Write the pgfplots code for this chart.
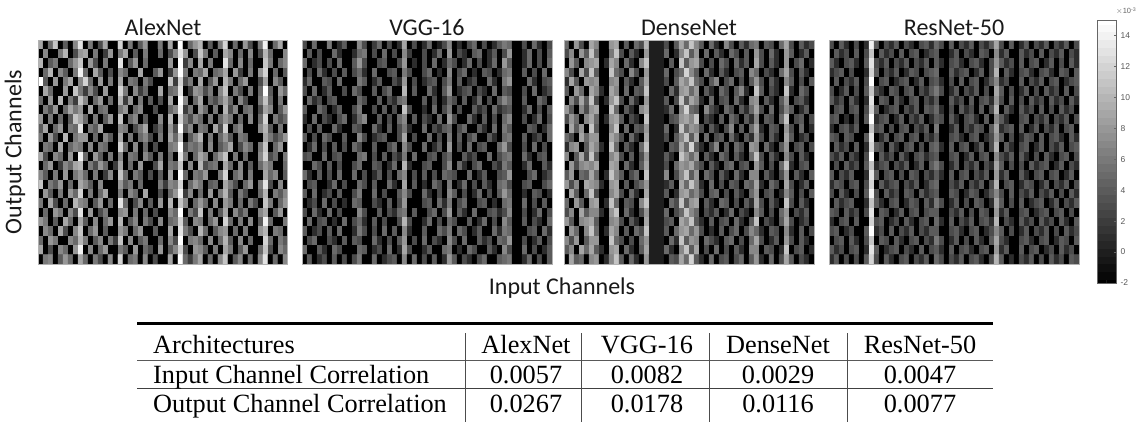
\documentclass[border=0pt]{standalone}
\usepackage{fontspec}
\setmainfont{Liberation Serif}
\newfontfamily\calib{Carlito}
\newfontfamily\helv{Liberation Sans}
\usepackage{pgfplots}
\pgfplotsset{compat=1.18}
\pgfplotsset{
 colormap={mygray}{gray(0cm)=(0); gray(1cm)=(1)},
 panel/.style={at={(#1bp,-264bp)},anchor=south west,scale only axis,width=250bp,height=224bp,
  xmin=-0.5,xmax=49.5,ymin=-0.5,ymax=23.5,y dir=reverse,xtick=\empty,ytick=\empty,
  point meta min=-2,point meta max=15,colormap name=mygray,axis on top,
  axis line style={color=black!30,line width=1bp}},
 cells/.style={matrix plot*,mesh/cols=50,point meta=explicit},
}
\begin{document}
\begin{tikzpicture}[x=1bp,y=1bp]
\path[use as bounding box] (0,0) rectangle (1141,-423);
% AlexNet
\begin{axis}[panel=38]
\addplot[cells] table[row sep=crcr,header=false,x expr={mod(\coordindex,50)},y expr={floor((\coordindex+0.5)/50)},meta index=0] {
9\\-2\\5\\11\\-2\\4\\-2\\7\\13\\-2\\ 6\\-2\\3\\9\\-2\\-2\\12\\-2\\6\\-2\\ 4\\8\\-2\\-2\\6\\-2\\9\\-2\\15\\-2\\ 5\\8\\10\\-2\\4\\-2\\6\\12\\-2\\5\\ -2\\8\\3\\-2\\6\\14\\-2\\5\\9\\-2\\
-2\\7\\-2\\-2\\6\\10\\-2\\3\\8\\9\\ -2\\6\\-2\\2\\8\\-2\\6\\9\\-2\\4\\ -2\\6\\-2\\-2\\5\\-2\\3\\7\\13\\8\\ -2\\3\\11\\6\\-2\\4\\-2\\9\\7\\-2\\ 5\\-2\\7\\-2\\3\\10\\5\\-2\\-2\\7\\
10\\-2\\4\\6\\-2\\-2\\5\\8\\11\\-2\\ 8\\3\\-2\\6\\-2\\-2\\13\\-2\\4\\8\\ -2\\5\\-2\\-2\\-2\\-2\\8\\-2\\15\\2\\ 7\\-2\\9\\-2\\6\\-2\\-2\\13\\5\\-2\\ 7\\-2\\5\\-2\\-2\\11\\6\\-2\\5\\7\\
-2\\5\\10\\-2\\7\\4\\-2\\6\\14\\5\\ -2\\9\\4\\-2\\3\\-2\\7\\5\\-2\\-2\\ 9\\-2\\-2\\4\\8\\-2\\2\\8\\15\\6\\ -2\\6\\5\\9\\-2\\5\\6\\9\\-2\\8\\ 2\\-2\\6\\-2\\8\\12\\-2\\5\\-2\\4\\
15\\4\\-2\\8\\-2\\6\\9\\-2\\7\\12\\ 5\\-2\\8\\-2\\6\\-2\\9\\-2\\6\\5\\ -2\\6\\3\\-2\\-2\\-2\\11\\2\\12\\3\\ 6\\-2\\9\\-2\\4\\8\\-2\\10\\6\\-2\\ 5\\8\\-2\\-2\\3\\9\\-2\\7\\4\\-2\\
-2\\9\\5\\-2\\-2\\8\\-2\\11\\6\\2\\ 7\\3\\-2\\8\\-2\\-2\\12\\6\\-2\\7\\ 2\\5\\-2\\-2\\9\\-2\\5\\6\\13\\-2\\ 2\\8\\7\\3\\6\\-2\\7\\11\\-2\\6\\ 3\\-2\\6\\-2\\5\\15\\4\\-2\\8\\5\\
5\\-2\\8\\-2\\10\\-2\\6\\2\\11\\7\\ -2\\5\\8\\-2\\5\\-2\\10\\2\\8\\-2\\ 6\\-2\\4\\-2\\3\\-2\\9\\-2\\15\\7\\ -2\\5\\9\\-2\\5\\3\\6\\9\\5\\-2\\ 7\\3\\-2\\-2\\6\\11\\5\\-2\\6\\-2\\
-2\\6\\3\\8\\-2\\5\\9\\6\\8\\-2\\ 9\\-2\\5\\6\\-2\\-2\\6\\8\\-2\\5\\ 7\\-2\\-2\\3\\-2\\-2\\5\\7\\14\\2\\ 6\\-2\\8\\5\\-2\\6\\-2\\10\\3\\7\\ -2\\5\\6\\-2\\3\\9\\7\\-2\\4\\8\\
8\\-2\\6\\-2\\5\\-2\\4\\11\\9\\5\\ -2\\6\\-2\\4\\8\\-2\\11\\-2\\5\\7\\ -2\\4\\-2\\-2\\7\\-2\\10\\-2\\12\\6\\ 3\\7\\5\\-2\\6\\-2\\5\\8\\6\\-2\\ 5\\-2\\7\\-2\\5\\12\\-2\\6\\3\\5\\
4\\9\\-2\\5\\8\\-2\\6\\5\\13\\-2\\ 6\\4\\9\\-2\\-2\\-2\\7\\6\\-2\\3\\ 6\\9\\-2\\2\\5\\-2\\8\\3\\15\\4\\ 7\\-2\\6\\5\\-2\\9\\3\\12\\-2\\5\\ 7\\-2\\-2\\-2\\7\\10\\4\\-2\\6\\-2\\
6\\-2\\8\\3\\-2\\10\\-2\\6\\8\\8\\ -2\\5\\-2\\7\\4\\-2\\9\\-2\\6\\-2\\ 5\\7\\3\\-2\\6\\-2\\9\\5\\11\\-2\\ 4\\7\\10\\-2\\6\\-2\\5\\8\\4\\-2\\ 6\\5\\-2\\-2\\-2\\9\\6\\3\\5\\8\\
-2\\6\\5\\-2\\9\\-2\\5\\7\\6\\-2\\ 7\\-2\\6\\5\\-2\\-2\\12\\5\\-2\\7\\ -2\\5\\-2\\3\\-2\\-2\\6\\7\\15\\3\\ 6\\5\\7\\-2\\7\\-2\\4\\6\\9\\-2\\ 3\\7\\5\\-2\\6\\11\\-2\\5\\8\\-2\\
9\\3\\-2\\7\\5\\-2\\8\\-2\\14\\5\\ -2\\8\\4\\-2\\6\\-2\\7\\-2\\6\\5\\ -2\\7\\4\\-2\\6\\-2\\5\\-2\\13\\6\\ -2\\5\\9\\7\\-2\\5\\8\\11\\-2\\6\\ -2\\5\\-2\\-2\\7\\12\\3\\5\\-2\\6\\
-2\\5\\8\\-2\\2\\7\\5\\9\\10\\-2\\ 6\\3\\8\\5\\-2\\2\\9\\-2\\5\\-2\\ 8\\-2\\-2\\3\\9\\-2\\6\\5\\11\\-2\\ 7\\-2\\10\\3\\5\\6\\-2\\9\\5\\-2\\ 7\\-2\\4\\-2\\5\\8\\6\\-2\\-2\\5\\
7\\4\\-2\\6\\-2\\8\\-2\\6\\8\\5\\ -2\\6\\-2\\2\\7\\-2\\11\\5\\-2\\6\\ 4\\-2\\3\\-2\\4\\-2\\9\\-2\\15\\5\\ -2\\6\\5\\8\\-2\\-2\\6\\12\\-2\\5\\ 7\\-2\\6\\-2\\-2\\9\\5\\7\\-2\\4\\
11\\-2\\6\\4\\8\\-2\\5\\-2\\9\\7\\ 4\\-2\\7\\-2\\-2\\-2\\8\\4\\6\\-2\\ 5\\-2\\-2\\-2\\6\\2\\7\\6\\12\\-2\\ 5\\8\\6\\-2\\4\\5\\-2\\9\\6\\3\\ -2\\5\\8\\-2\\6\\13\\3\\-2\\7\\-2\\
-2\\8\\4\\-2\\6\\-2\\8\\5\\12\\-2\\ 6\\-2\\5\\9\\-2\\-2\\6\\-2\\7\\5\\ -2\\9\\-2\\-2\\3\\-2\\5\\8\\14\\2\\ 7\\-2\\5\\-2\\8\\-2\\6\\10\\4\\-2\\ 6\\3\\-2\\-2\\5\\10\\-2\\6\\4\\7\\
6\\-2\\9\\3\\-2\\5\\-2\\10\\7\\6\\ -2\\4\\8\\-2\\5\\-2\\13\\5\\-2\\3\\ 7\\-2\\4\\-2\\8\\-2\\10\\-2\\11\\7\\ -2\\5\\8\\5\\-2\\7\\-2\\8\\6\\-2\\ 5\\-2\\6\\3\\-2\\11\\6\\-2\\5\\8\\
-2\\5\\-2\\8\\6\\-2\\7\\3\\13\\-2\\ 8\\-2\\3\\6\\-2\\-2\\7\\8\\-2\\6\\ -2\\5\\-2\\3\\-2\\-2\\7\\5\\15\\-2\\ 6\\3\\11\\-2\\6\\-2\\4\\9\\-2\\7\\ 3\\6\\-2\\-2\\7\\9\\-2\\4\\8\\-2\\
8\\6\\-2\\4\\-2\\9\\5\\-2\\9\\4\\ -2\\7\\-2\\5\\8\\-2\\10\\-2\\4\\7\\ -2\\6\\3\\-2\\7\\-2\\5\\6\\12\\4\\ -2\\7\\6\\-2\\5\\8\\-2\\12\\5\\-2\\ 6\\-2\\7\\-2\\4\\14\\5\\-2\\-2\\6\\
-2\\7\\5\\-2\\9\\3\\-2\\7\\11\\-2\\ 5\\8\\-2\\4\\-2\\-2\\8\\6\\-2\\5\\ 8\\-2\\-2\\4\\-2\\-2\\9\\-2\\13\\6\\ 3\\-2\\10\\5\\-2\\4\\7\\8\\-2\\5\\ -2\\6\\-2\\-2\\8\\10\\-2\\6\\5\\-2\\
5\\-2\\8\\6\\-2\\-2\\7\\5\\10\\6\\ -2\\4\\7\\-2\\6\\2\\11\\-2\\7\\-2\\ 4\\6\\-2\\-2\\5\\-2\\7\\3\\15\\-2\\ 6\\7\\5\\-2\\7\\-2\\5\\10\\4\\-2\\ 7\\-2\\5\\-2\\-2\\12\\5\\-2\\6\\4\\
9\\-2\\3\\-2\\7\\5\\-2\\8\\14\\-2\\ 7\\-2\\5\\8\\-2\\-2\\6\\4\\-2\\8\\ -2\\5\\3\\-2\\8\\-2\\4\\7\\12\\3\\ -2\\8\\7\\4\\-2\\6\\-2\\9\\6\\-2\\ 4\\8\\-2\\-2\\5\\11\\3\\-2\\7\\5\\
-2\\6\\7\\-2\\4\\8\\5\\-2\\9\\5\\ -2\\6\\3\\-2\\7\\-2\\12\\-2\\5\\6\\ -2\\7\\-2\\3\\-2\\-2\\9\\-2\\15\\5\\ 2\\6\\9\\-2\\5\\-2\\7\\11\\-2\\4\\ 7\\-2\\5\\-2\\7\\13\\-2\\5\\-2\\7\\
};
\end{axis}
% VGG-16
\begin{axis}[panel=302]
\addplot[cells] table[row sep=crcr,header=false,x expr={mod(\coordindex,50)},y expr={floor((\coordindex+0.5)/50)},meta index=0] {
3\\-2\\5\\-2\\-2\\6\\-2\\1\\4\\-2\\ -2\\7\\3\\-2\\2\\5\\-2\\3\\-2\\1\\ 9\\-2\\3\\-2\\1\\5\\-2\\0\\3\\7\\ -2\\1\\-2\\3\\5\\-2\\3\\-2\\1\\4\\ 6\\5\\-2\\-2\\3\\-2\\5\\1\\-2\\3\\
-2\\4\\-2\\3\\-2\\-2\\5\\1\\-2\\-2\\ 1\\5\\6\\-2\\3\\-2\\5\\-2\\3\\-2\\ 7\\2\\-2\\-2\\3\\-2\\1\\5\\-2\\8\\ -2\\3\\1\\-2\\4\\5\\-2\\1\\4\\-2\\ 3\\8\\-2\\-2\\1\\5\\-2\\3\\-2\\4\\
5\\-2\\1\\3\\-2\\3\\-2\\5\\-2\\-2\\ 4\\8\\3\\-2\\-2\\3\\4\\-2\\-2\\3\\ 8\\-2\\1\\-2\\3\\-2\\5\\-2\\1\\5\\ 3\\-2\\1\\5\\-2\\3\\-2\\1\\5\\-2\\ 8\\4\\-2\\-2\\1\\5\\-2\\3\\-2\\5\\
-2\\3\\-2\\5\\1\\-2\\3\\-2\\4\\-2\\ 3\\5\\1\\-2\\5\\-2\\-2\\3\\4\\-2\\ 6\\3\\-2\\-2\\3\\5\\-2\\1\\-2\\7\\ -2\\3\\5\\-2\\1\\-2\\4\\3\\-2\\1\\ 5\\6\\-2\\-2\\4\\-2\\3\\-2\\5\\-2\\
1\\5\\-2\\-2\\4\\3\\-2\\5\\-2\\-2\\ -2\\6\\4\\-2\\1\\4\\-2\\-2\\3\\1\\ 8\\-2\\3\\-2\\1\\3\\4\\-2\\3\\6\\ -2\\4\\-2\\1\\3\\-2\\-2\\5\\1\\-2\\ 6\\8\\-2\\-2\\-2\\5\\1\\-2\\3\\4\\
3\\-2\\5\\-2\\1\\4\\-2\\-2\\3\\-2\\ 5\\3\\-2\\-2\\4\\-2\\3\\5\\-2\\-2\\ 10\\-2\\4\\-2\\-2\\5\\1\\-2\\4\\8\\ -2\\1\\3\\4\\-2\\3\\1\\-2\\5\\-2\\ 4\\3\\-2\\-2\\3\\-2\\5\\-2\\1\\3\\
-2\\5\\1\\3\\-2\\3\\4\\-2\\-2\\-2\\ -2\\5\\3\\-2\\-2\\4\\-2\\3\\1\\5\\ 6\\-2\\-2\\-2\\4\\-2\\3\\-2\\1\\5\\ 3\\-2\\4\\-2\\1\\5\\-2\\3\\-2\\4\\ 7\\5\\-2\\-2\\4\\-2\\-2\\5\\3\\-2\\
4\\-2\\-2\\5\\3\\-2\\1\\4\\-2\\-2\\ 3\\6\\-2\\-2\\3\\-2\\4\\-2\\3\\-2\\ 11\\3\\-2\\-2\\1\\-2\\5\\-2\\3\\6\\ -2\\3\\-2\\-2\\4\\1\\3\\-2\\5\\1\\ 3\\4\\-2\\-2\\1\\5\\-2\\3\\-2\\4\\
1\\-2\\5\\-2\\3\\1\\-2\\3\\5\\-2\\ 1\\5\\7\\-2\\-2\\4\\-2\\3\\-2\\5\\ 7\\-2\\4\\-2\\3\\1\\-2\\5\\-2\\8\\ 3\\-2\\-2\\5\\1\\-2\\4\\-2\\3\\-2\\ 5\\7\\-2\\-2\\3\\-2\\1\\5\\-2\\3\\
-2\\3\\-2\\4\\-2\\-2\\5\\1\\-2\\-2\\ 4\\3\\-2\\-2\\5\\1\\-2\\4\\-2\\3\\ 6\\1\\-2\\-2\\5\\-2\\3\\1\\4\\5\\ -2\\3\\5\\-2\\-2\\4\\1\\-2\\5\\-2\\ 6\\4\\-2\\-2\\-2\\4\\3\\-2\\1\\5\\
4\\-2\\3\\-2\\5\\3\\-2\\-2\\4\\-2\\ -2\\7\\3\\-2\\1\\3\\4\\-2\\-2\\3\\ 9\\-2\\3\\-2\\-2\\5\\-2\\3\\-2\\6\\ -2\\4\\-2\\3\\5\\-2\\-2\\4\\1\\-2\\ 5\\6\\-2\\-2\\4\\-2\\1\\3\\-2\\5\\
-2\\1\\5\\-2\\3\\-2\\4\\-2\\3\\-2\\ 5\\3\\-2\\-2\\4\\-2\\-2\\3\\5\\-2\\ 7\\3\\-2\\-2\\5\\-2\\1\\4\\-2\\8\\ -2\\3\\-2\\5\\-2\\3\\4\\-2\\-2\\5\\ 8\\3\\-2\\-2\\3\\-2\\5\\-2\\3\\-2\\
3\\4\\-2\\-2\\5\\-2\\3\\4\\-2\\-2\\ -2\\5\\6\\-2\\3\\-2\\4\\-2\\3\\1\\ 6\\-2\\5\\-2\\-2\\3\\4\\-2\\3\\5\\ -2\\-2\\4\\1\\3\\-2\\-2\\5\\-2\\3\\ 5\\6\\-2\\-2\\5\\1\\-2\\3\\4\\-2\\
-2\\-2\\5\\3\\-2\\4\\-2\\3\\-2\\-2\\ 3\\5\\-2\\-2\\4\\3\\-2\\1\\5\\-2\\ 10\\1\\-2\\-2\\3\\4\\-2\\-2\\3\\7\\ -2\\5\\1\\-2\\3\\5\\-2\\-2\\3\\1\\ 6\\4\\-2\\-2\\1\\5\\-2\\-2\\4\\1\\
5\\1\\-2\\4\\-2\\3\\-2\\5\\-2\\-2\\ 5\\-2\\3\\-2\\1\\4\\-2\\3\\-2\\5\\ 7\\-2\\3\\-2\\4\\-2\\3\\-2\\5\\4\\ 3\\-2\\-2\\5\\-2\\1\\4\\-2\\-2\\3\\ 4\\8\\-2\\-2\\-2\\3\\5\\-2\\1\\3\\
-2\\3\\4\\-2\\-2\\1\\5\\-2\\3\\-2\\ -2\\5\\3\\-2\\4\\-2\\-2\\5\\1\\-2\\ 9\\-2\\4\\-2\\1\\-2\\5\\3\\-2\\6\\ -2\\1\\5\\-2\\3\\-2\\4\\1\\-2\\5\\ 6\\3\\-2\\-2\\3\\4\\-2\\-2\\3\\5\\
4\\-2\\5\\-2\\1\\3\\-2\\4\\-2\\-2\\ 3\\6\\-2\\-2\\5\\-2\\3\\-2\\-2\\4\\ 7\\3\\-2\\-2\\5\\1\\-2\\3\\-2\\7\\ 4\\-2\\3\\-2\\1\\5\\-2\\3\\-2\\4\\ 8\\5\\-2\\-2\\1\\-2\\4\\3\\-2\\1\\
-2\\1\\3\\-2\\5\\-2\\3\\-2\\1\\-2\\ 5\\4\\-2\\-2\\3\\1\\-2\\4\\-2\\3\\ 8\\-2\\-2\\-2\\3\\4\\-2\\5\\1\\6\\ -2\\3\\5\\-2\\-2\\3\\4\\-2\\1\\-2\\ 5\\6\\-2\\-2\\5\\-2\\3\\-2\\4\\-2\\
3\\-2\\5\\1\\-2\\5\\-2\\3\\-2\\-2\\ -2\\7\\3\\-2\\-2\\4\\-2\\3\\1\\5\\ 6\\-2\\4\\-2\\-2\\3\\5\\-2\\3\\8\\ -2\\4\\1\\-2\\5\\-2\\-2\\3\\4\\1\\ 3\\7\\-2\\-2\\3\\-2\\1\\5\\-2\\3\\
-2\\5\\-2\\3\\4\\-2\\1\\-2\\5\\-2\\ 3\\5\\1\\-2\\4\\-2\\3\\-2\\-2\\3\\ 10\\3\\-2\\-2\\1\\5\\-2\\3\\-2\\5\\ 3\\-2\\-2\\4\\-2\\1\\5\\-2\\3\\-2\\ 7\\4\\-2\\-2\\4\\-2\\3\\1\\-2\\5\\
4\\-2\\1\\3\\-2\\4\\-2\\5\\-2\\-2\\ 1\\6\\3\\-2\\3\\-2\\5\\-2\\4\\-2\\ 7\\1\\-2\\-2\\4\\-2\\-2\\5\\3\\6\\ -2\\5\\3\\-2\\1\\4\\-2\\-2\\5\\1\\ 6\\5\\-2\\-2\\-2\\3\\4\\-2\\5\\1\\
-2\\3\\5\\-2\\-2\\3\\1\\-2\\4\\-2\\ 4\\3\\-2\\-2\\5\\1\\-2\\3\\-2\\4\\ 8\\-2\\3\\-2\\5\\-2\\3\\1\\-2\\7\\ 3\\-2\\5\\-2\\-2\\4\\1\\3\\-2\\5\\ 4\\8\\-2\\-2\\3\\-2\\1\\4\\-2\\3\\
5\\-2\\-2\\4\\1\\-2\\5\\3\\-2\\-2\\ -2\\5\\4\\-2\\1\\3\\-2\\5\\-2\\1\\ 9\\3\\-2\\-2\\1\\4\\-2\\-2\\5\\6\\ -2\\1\\-2\\5\\3\\-2\\-2\\4\\1\\-2\\ 7\\3\\-2\\-2\\5\\-2\\3\\-2\\1\\4\\
-2\\4\\-2\\1\\3\\-2\\4\\-2\\3\\-2\\ 3\\6\\-2\\-2\\5\\-2\\1\\3\\4\\-2\\ 7\\-2\\5\\-2\\3\\-2\\4\\-2\\1\\8\\ 4\\-2\\3\\1\\-2\\3\\5\\-2\\-2\\4\\ 5\\6\\-2\\-2\\1\\5\\-2\\3\\-2\\4\\
};
\end{axis}
% DenseNet
\begin{axis}[panel=564]
\addplot[cells] table[row sep=crcr,header=false,x expr={mod(\coordindex,50)},y expr={floor((\coordindex+0.5)/50)},meta index=0] {
5\\-2\\8\\3\\-2\\9\\7\\-2\\-2\\8\\ 9\\-2\\4\\-2\\5\\3\\10\\0\\0\\0\\ 3\\-2\\4\\9\\5\\11\\7\\4\\-2\\5\\ 1\\-2\\7\\3\\-2\\4\\1\\5\\6\\-2\\ 4\\3\\-2\\5\\9\\3\\-2\\4\\1\\3\\
3\\7\\-2\\8\\4\\11\\5\\-2\\-2\\6\\ 11\\3\\-2\\4\\1\\-2\\8\\0\\0\\0\\ 5\\-2\\1\\7\\11\\4\\8\\-2\\5\\-2\\ 4\\1\\-2\\5\\3\\-2\\4\\-2\\8\\3\\ -2\\5\\1\\-2\\8\\4\\-2\\1\\4\\-2\\
-2\\8\\4\\-2\\7\\8\\9\\-2\\1\\9\\ 7\\-2\\5\\1\\-2\\7\\11\\0\\0\\0\\ -2\\4\\-2\\11\\4\\8\\9\\3\\-2\\3\\ -2\\5\\3\\-2\\5\\1\\4\\-2\\9\\3\\ -2\\4\\1\\-2\\8\\-2\\3\\5\\-2\\1\\
7\\3\\-2\\9\\3\\11\\4\\-2\\-2\\11\\ 5\\3\\-2\\7\\3\\-2\\8\\0\\0\\0\\ 5\\-2\\3\\5\\12\\7\\4\\-2\\5\\1\\ -2\\4\\1\\-2\\3\\4\\-2\\7\\5\\-2\\ 3\\1\\-2\\5\\9\\3\\-2\\4\\1\\-2\\
1\\9\\4\\-2\\8\\7\\8\\-2\\-2\\7\\ 8\\-2\\4\\1\\-2\\4\\9\\0\\0\\0\\ 3\\-2\\4\\9\\7\\11\\5\\3\\-2\\4\\ 7\\-2\\3\\5\\-2\\3\\-2\\4\\8\\3\\ -2\\4\\1\\-2\\7\\4\\-2\\3\\-2\\4\\
4\\-2\\8\\5\\-2\\9\\7\\1\\-2\\9\\ 7\\-2\\5\\-2\\4\\3\\11\\0\\0\\0\\ -2\\5\\1\\8\\9\\5\\8\\-2\\4\\1\\ -2\\5\\3\\-2\\4\\7\\1\\-2\\11\\4\\ -2\\3\\1\\-2\\11\\1\\-2\\5\\3\\-2\\
-2\\7\\3\\9\\4\\11\\3\\-2\\1\\8\\ 11\\3\\-2\\5\\1\\-2\\8\\0\\0\\0\\ 4\\-2\\3\\11\\4\\9\\7\\1\\-2\\5\\ -2\\3\\4\\-2\\5\\1\\-2\\7\\8\\-2\\ 4\\1\\-2\\4\\8\\-2\\3\\4\\1\\-2\\
8\\4\\-2\\7\\3\\8\\9\\-2\\-2\\11\\ 5\\-2\\4\\1\\-2\\7\\9\\0\\0\\0\\ 1\\5\\-2\\7\\12\\5\\4\\-2\\7\\3\\ 1\\-2\\5\\3\\-2\\4\\1\\5\\9\\3\\ -2\\5\\-2\\3\\7\\4\\-2\\1\\4\\-2\\
3\\8\\5\\-2\\7\\9\\5\\-2\\1\\8\\ 9\\4\\-2\\3\\1\\-2\\11\\0\\0\\0\\ -2\\3\\4\\8\\9\\7\\11\\-2\\3\\1\\ -2\\4\\-2\\5\\3\\-2\\4\\1\\7\\-2\\ 4\\3\\-2\\5\\11\\-2\\3\\4\\-2\\3\\
-2\\9\\4\\8\\-2\\11\\4\\-2\\-2\\7\\ 11\\-2\\5\\-2\\4\\3\\8\\0\\0\\0\\ 5\\-2\\1\\11\\5\\8\\7\\3\\-2\\4\\ 1\\-2\\3\\7\\-2\\4\\-2\\5\\9\\1\\ -2\\4\\3\\-2\\8\\3\\-2\\5\\-2\\1\\
5\\3\\-2\\9\\5\\8\\8\\-2\\-2\\9\\ 7\\3\\-2\\5\\1\\-2\\9\\0\\0\\0\\ 3\\-2\\4\\7\\11\\4\\9\\-2\\5\\-2\\ 3\\4\\-2\\5\\1\\-2\\4\\1\\8\\3\\ -2\\4\\1\\-2\\9\\4\\-2\\1\\3\\-2\\
1\\7\\8\\-2\\4\\9\\7\\1\\-2\\11\\ 5\\-2\\4\\1\\-2\\5\\11\\0\\0\\0\\ -2\\4\\3\\9\\5\\12\\4\\1\\-2\\3\\ 7\\-2\\4\\-2\\5\\3\\-2\\8\\7\\-2\\ 5\\1\\-2\\4\\8\\-2\\3\\4\\-2\\3\\
7\\-2\\4\\9\\3\\11\\4\\-2\\-2\\7\\ 9\\3\\-2\\4\\-2\\3\\8\\0\\0\\0\\ 4\\1\\-2\\11\\8\\5\\8\\-2\\4\\1\\ -2\\5\\3\\-2\\4\\1\\-2\\5\\11\\3\\ -2\\4\\1\\-2\\7\\3\\-2\\4\\1\\-2\\
-2\\8\\3\\7\\8\\7\\9\\-2\\-2\\9\\ 8\\-2\\5\\1\\-2\\4\\9\\0\\0\\0\\ 3\\-2\\5\\8\\7\\9\\5\\3\\-2\\4\\ 1\\-2\\4\\5\\-2\\3\\4\\-2\\8\\4\\ -2\\3\\-2\\5\\11\\1\\-2\\3\\4\\-2\\
4\\8\\-2\\5\\4\\9\\5\\-2\\1\\11\\ 7\\4\\-2\\3\\5\\-2\\11\\0\\0\\0\\ 7\\-2\\3\\7\\11\\4\\8\\-2\\5\\3\\ -2\\4\\1\\-2\\5\\1\\-2\\7\\7\\-2\\ 4\\1\\-2\\3\\8\\-2\\4\\1\\-2\\4\\
8\\3\\7\\-2\\9\\8\\7\\1\\-2\\8\\ 9\\-2\\4\\-2\\3\\5\\8\\0\\0\\0\\ 1\\4\\-2\\9\\5\\11\\7\\1\\-2\\5\\ -2\\3\\-2\\4\\3\\-2\\5\\4\\9\\1\\ -2\\5\\3\\-2\\9\\3\\-2\\1\\4\\-2\\
-2\\9\\4\\-2\\5\\11\\3\\-2\\-2\\7\\ 9\\3\\-2\\5\\1\\-2\\9\\0\\0\\0\\ 4\\-2\\1\\8\\9\\5\\7\\3\\-2\\4\\ 5\\-2\\3\\-2\\4\\1\\-2\\5\\8\\-2\\ 3\\4\\-2\\1\\7\\4\\-2\\3\\-2\\4\\
5\\-2\\8\\4\\-2\\8\\9\\-2\\1\\11\\ 5\\-2\\4\\3\\-2\\7\\11\\0\\0\\0\\ -2\\5\\3\\11\\4\\8\\9\\-2\\4\\1\\ -2\\5\\4\\-2\\3\\-2\\4\\1\\9\\3\\ -2\\4\\1\\-2\\11\\3\\-2\\4\\1\\-2\\
3\\7\\-2\\9\\4\\7\\7\\1\\-2\\8\\ 11\\-2\\5\\1\\-2\\3\\8\\0\\0\\0\\ 5\\-2\\3\\5\\11\\7\\5\\-2\\3\\1\\ 4\\-2\\1\\5\\-2\\3\\1\\-2\\7\\4\\ -2\\3\\-2\\5\\8\\-2\\3\\1\\4\\-2\\
8\\4\\-2\\7\\8\\9\\4\\-2\\-2\\7\\ 8\\3\\-2\\4\\1\\-2\\9\\0\\0\\0\\ 3\\4\\-2\\9\\7\\11\\4\\1\\-2\\4\\ -2\\3\\4\\-2\\5\\1\\-2\\4\\11\\-2\\ 3\\1\\-2\\4\\9\\3\\-2\\1\\3\\-2\\
-2\\8\\5\\-2\\7\\11\\5\\-2\\1\\9\\ 7\\-2\\4\\-2\\5\\3\\11\\0\\0\\0\\ 4\\-2\\5\\8\\9\\5\\8\\3\\-2\\1\\ -2\\4\\-2\\3\\5\\-2\\3\\7\\5\\1\\ -2\\4\\3\\-2\\7\\1\\-2\\4\\-2\\3\\
7\\3\\8\\-2\\4\\8\\8\\-2\\-2\\11\\ 5\\3\\-2\\3\\-2\\5\\8\\0\\0\\0\\ -2\\5\\1\\11\\4\\8\\7\\-2\\5\\3\\ 1\\-2\\4\\5\\-2\\3\\-2\\5\\9\\3\\ -2\\1\\4\\-2\\8\\3\\-2\\4\\1\\-2\\
4\\7\\-2\\9\\5\\9\\4\\1\\-2\\8\\ 9\\-2\\5\\1\\-2\\4\\9\\0\\0\\0\\ 5\\1\\-2\\7\\11\\4\\9\\-2\\3\\-2\\ 5\\-2\\3\\-2\\4\\1\\-2\\7\\7\\-2\\ 4\\3\\-2\\1\\11\\-2\\3\\4\\-2\\1\\
-2\\9\\4\\5\\-2\\7\\8\\-2\\1\\7\\ 11\\4\\-2\\5\\1\\-2\\8\\0\\0\\0\\ -2\\4\\3\\9\\5\\12\\4\\1\\-2\\5\\ -2\\3\\4\\-2\\3\\5\\-2\\4\\8\\1\\ -2\\5\\-2\\3\\9\\4\\-2\\3\\1\\-2\\
};
\end{axis}
% ResNet-50
\begin{axis}[panel=829]
\addplot[cells] table[row sep=crcr,header=false,x expr={mod(\coordindex,50)},y expr={floor((\coordindex+0.5)/50)},meta index=0] {
3\\-2\\4\\1\\-2\\3\\-2\\1\\14\\4\\ -2\\3\\1\\4\\-2\\3\\1\\-2\\3\\4\\ 1\\5\\3\\-2\\4\\-2\\3\\1\\4\\-2\\ 3\\1\\4\\9\\3\\-2\\4\\-2\\1\\4\\ -2\\3\\1\\4\\-2\\3\\1\\4\\-2\\3\\
-2\\4\\1\\3\\-2\\4\\-2\\3\\11\\-2\\ 4\\1\\3\\-2\\4\\-2\\3\\4\\-2\\1\\ 3\\4\\-2\\-2\\1\\4\\-2\\3\\1\\-2\\ 4\\3\\-2\\7\\1\\4\\-2\\-2\\4\\1\\ 3\\-2\\4\\-2\\3\\1\\4\\-2\\3\\1\\
4\\1\\-2\\3\\4\\1\\-2\\4\\13\\3\\ 1\\4\\-2\\3\\1\\4\\-2\\3\\1\\4\\ -2\\4\\1\\-2\\3\\4\\1\\-2\\3\\4\\ 1\\-2\\3\\8\\4\\1\\3\\-2\\4\\-2\\ 3\\4\\-2\\1\\4\\-2\\3\\-2\\4\\1\\
1\\3\\4\\-2\\3\\-2\\-2\\1\\12\\4\\ -2\\3\\1\\4\\-2\\1\\4\\3\\-2\\3\\ 4\\5\\-2\\-2\\4\\1\\3\\4\\-2\\1\\ 4\\-2\\3\\10\\-2\\4\\1\\-2\\3\\4\\ 1\\-2\\3\\4\\1\\-2\\4\\3\\-2\\4\\
-2\\4\\-2\\3\\1\\4\\-2\\3\\15\\-2\\ 3\\4\\-2\\1\\3\\4\\-2\\1\\4\\-2\\ 3\\4\\1\\-2\\3\\-2\\4\\-2\\3\\4\\ -2\\1\\4\\7\\1\\3\\-2\\-2\\4\\-2\\ 3\\1\\4\\-2\\3\\4\\-2\\1\\3\\4\\
3\\-2\\1\\4\\-2\\3\\-2\\4\\11\\3\\ 1\\-2\\4\\3\\-2\\3\\4\\-2\\3\\1\\ 4\\6\\3\\-2\\1\\4\\-2\\3\\1\\4\\ -2\\3\\-2\\9\\4\\-2\\3\\-2\\1\\4\\ -2\\3\\-2\\4\\1\\3\\-2\\4\\-2\\3\\
4\\1\\3\\-2\\4\\1\\-2\\1\\13\\-2\\ 4\\3\\-2\\4\\1\\-2\\3\\4\\-2\\3\\ 1\\4\\-2\\-2\\4\\1\\3\\-2\\4\\-2\\ 3\\4\\1\\8\\3\\-2\\4\\-2\\3\\-2\\ 4\\1\\3\\-2\\4\\1\\3\\-2\\4\\1\\
-2\\3\\4\\-2\\3\\4\\-2\\3\\12\\4\\ -2\\1\\3\\4\\-2\\3\\1\\4\\-2\\4\\ 3\\5\\1\\-2\\3\\-2\\4\\1\\3\\-2\\ 4\\-2\\3\\10\\-2\\4\\1\\-2\\4\\1\\ 3\\-2\\4\\-2\\3\\-2\\4\\1\\3\\-2\\
3\\4\\-2\\1\\-2\\3\\-2\\4\\15\\1\\ 3\\4\\-2\\1\\4\\-2\\3\\1\\4\\-2\\ 1\\4\\3\\-2\\4\\1\\-2\\3\\4\\1\\ -2\\4\\-2\\7\\4\\1\\-2\\-2\\3\\4\\ -2\\3\\1\\4\\-2\\3\\1\\4\\-2\\3\\
1\\-2\\3\\4\\1\\4\\-2\\-2\\11\\3\\ 4\\-2\\3\\-2\\3\\4\\-2\\3\\1\\4\\ -2\\6\\-2\\-2\\1\\4\\-2\\3\\1\\4\\ 3\\-2\\4\\9\\1\\3\\4\\-2\\4\\-2\\ 1\\4\\-2\\3\\1\\4\\-2\\3\\4\\-2\\
4\\3\\-2\\4\\3\\-2\\-2\\4\\13\\-2\\ 1\\4\\-2\\3\\4\\-2\\3\\4\\-2\\3\\ 1\\4\\-2\\-2\\3\\4\\1\\-2\\3\\4\\ -2\\1\\3\\8\\4\\-2\\3\\-2\\1\\4\\ 3\\-2\\4\\-2\\3\\4\\1\\-2\\4\\1\\
-2\\4\\1\\3\\-2\\4\\-2\\1\\12\\4\\ 3\\-2\\4\\1\\-2\\3\\4\\-2\\3\\-2\\ 4\\5\\1\\-2\\4\\-2\\3\\4\\-2\\1\\ 4\\-2\\3\\10\\-2\\4\\1\\-2\\3\\4\\ -2\\1\\4\\-2\\3\\1\\4\\-2\\3\\4\\
3\\1\\4\\-2\\3\\1\\-2\\3\\15\\-2\\ 4\\1\\3\\-2\\4\\1\\-2\\3\\4\\1\\ 3\\4\\-2\\-2\\3\\4\\-2\\1\\4\\-2\\ 3\\4\\-2\\7\\3\\1\\4\\-2\\4\\1\\ -2\\3\\-2\\4\\1\\-2\\3\\4\\-2\\3\\
-2\\3\\-2\\4\\1\\3\\-2\\4\\11\\1\\ 3\\4\\-2\\3\\1\\4\\-2\\1\\4\\-2\\ 4\\6\\3\\-2\\1\\4\\-2\\3\\1\\4\\ -2\\3\\1\\9\\4\\-2\\3\\-2\\3\\-2\\ 4\\1\\3\\4\\-2\\1\\4\\-2\\3\\1\\
4\\-2\\3\\1\\4\\-2\\-2\\1\\13\\4\\ -2\\3\\4\\-2\\3\\-2\\4\\3\\-2\\3\\ 1\\4\\1\\-2\\4\\-2\\3\\4\\-2\\3\\ 1\\4\\-2\\8\\1\\4\\-2\\-2\\4\\1\\ -2\\3\\4\\-2\\3\\4\\-2\\1\\4\\-2\\
1\\4\\3\\-2\\3\\4\\-2\\3\\12\\-2\\ 4\\1\\3\\4\\-2\\3\\1\\4\\-2\\1\\ 4\\5\\-2\\-2\\3\\1\\4\\-2\\3\\1\\ 4\\-2\\3\\10\\-2\\3\\4\\-2\\1\\4\\ 3\\-2\\1\\4\\-2\\3\\1\\4\\-2\\3\\
3\\-2\\4\\1\\-2\\3\\-2\\4\\14\\3\\ -2\\4\\1\\3\\-2\\4\\3\\-2\\4\\1\\ 3\\4\\-2\\-2\\4\\3\\-2\\1\\4\\3\\ -2\\1\\4\\7\\3\\-2\\4\\-2\\3\\1\\ 4\\-2\\3\\1\\4\\-2\\3\\-2\\4\\1\\
-2\\4\\1\\3\\4\\-2\\-2\\1\\11\\4\\ 1\\-2\\3\\4\\-2\\1\\4\\3\\-2\\4\\ 1\\6\\3\\-2\\1\\4\\-2\\3\\-2\\4\\ 3\\-2\\1\\9\\4\\-2\\3\\-2\\4\\-2\\ 1\\3\\4\\-2\\1\\4\\-2\\3\\1\\4\\
4\\3\\-2\\4\\1\\3\\-2\\3\\13\\-2\\ 4\\3\\-2\\1\\4\\-2\\3\\4\\-2\\3\\ 4\\4\\-2\\-2\\3\\1\\4\\-2\\3\\-2\\ 4\\3\\-2\\8\\1\\4\\-2\\-2\\3\\4\\ -2\\1\\3\\4\\-2\\3\\4\\-2\\3\\-2\\
1\\-2\\3\\4\\-2\\4\\-2\\-2\\12\\3\\ 4\\-2\\1\\3\\-2\\4\\1\\-2\\3\\4\\ -2\\5\\1\\-2\\4\\-2\\3\\1\\4\\-2\\ 3\\4\\1\\10\\-2\\3\\1\\-2\\4\\1\\ 3\\-2\\4\\1\\3\\-2\\4\\1\\-2\\4\\
3\\4\\-2\\1\\3\\-2\\-2\\4\\15\\1\\ 3\\-2\\4\\-2\\3\\1\\4\\-2\\3\\1\\ 4\\4\\-2\\-2\\3\\4\\1\\-2\\3\\4\\ -2\\1\\3\\7\\4\\-2\\3\\-2\\1\\4\\ -2\\3\\1\\4\\-2\\3\\-2\\4\\1\\3\\
-2\\3\\4\\-2\\4\\1\\-2\\3\\11\\-2\\ 4\\3\\-2\\4\\1\\-2\\3\\4\\-2\\3\\ 1\\6\\3\\-2\\1\\4\\-2\\3\\-2\\4\\ 1\\-2\\4\\9\\3\\1\\-2\\-2\\3\\4\\ 1\\-2\\3\\4\\-2\\1\\4\\3\\-2\\4\\
4\\1\\3\\-2\\3\\4\\-2\\1\\13\\4\\ -2\\1\\3\\4\\-2\\3\\1\\-2\\4\\-2\\ 3\\4\\1\\-2\\4\\-2\\3\\4\\1\\-2\\ 3\\4\\-2\\8\\1\\4\\-2\\-2\\4\\-2\\ 3\\4\\-2\\1\\3\\-2\\4\\1\\3\\-2\\
1\\4\\-2\\3\\-2\\3\\-2\\4\\12\\3\\ -2\\4\\1\\-2\\3\\4\\-2\\3\\1\\4\\ -2\\5\\3\\-2\\3\\1\\4\\-2\\3\\4\\ 1\\-2\\3\\10\\4\\-2\\1\\-2\\3\\1\\ 4\\-2\\3\\-2\\4\\1\\3\\-2\\4\\3\\
};
\end{axis}
% colour bar
\begin{axis}[at={(1097bp,-283bp)},anchor=south west,scale only axis,width=19bp,height=263bp,
 xmin=0,xmax=1,ymin=-2,ymax=15,xtick=\empty,ytick={-2,0,2,4,6,8,10,12,14},
 yticklabels={-2,0,2,4,6,8,10,12,14},ytick pos=right,yticklabel pos=right,tick align=inside,
 major tick length=2bp,tick style={color=black!60,line width=0.4bp},
 yticklabel style={font=\helv\fontsize{8.5bp}{9bp}\selectfont,text=black!65,xshift=1bp},
 colormap name=mygray,point meta min=-2,point meta max=15,axis on top,
 axis line style={color=black!60,line width=0.5bp}]
\addplot[matrix plot*,mesh/cols=2,point meta=y] coordinates {
(0,-2)(1,-2)(0,-1.5)(1,-1.5)(0,-1)(1,-1)(0,-0.5)(1,-0.5)(0,0)(1,0)(0,0.5)(1,0.5)(0,1)(1,1)(0,1.5)(1,1.5)
(0,2)(1,2)(0,2.5)(1,2.5)(0,3)(1,3)(0,3.5)(1,3.5)(0,4)(1,4)(0,4.5)(1,4.5)(0,5)(1,5)(0,5.5)(1,5.5)
(0,6)(1,6)(0,6.5)(1,6.5)(0,7)(1,7)(0,7.5)(1,7.5)(0,8)(1,8)(0,8.5)(1,8.5)(0,9)(1,9)(0,9.5)(1,9.5)
(0,10)(1,10)(0,10.5)(1,10.5)(0,11)(1,11)(0,11.5)(1,11.5)(0,12)(1,12)(0,12.5)(1,12.5)(0,13)(1,13)(0,13.5)(1,13.5)
(0,14)(1,14)(0,14.5)(1,14.5)(0,15)(1,15)(0,15.5)(1,15.5)};
\end{axis}
\node[anchor=west,inner sep=0,text=black!60,font=\helv\fontsize{7.5bp}{9bp}\selectfont] at (1116,-11) {$\times$10\textsuperscript{-3}};
% titles
\begin{scope}[every node/.style={inner sep=0,anchor=base,font=\calib\fontsize{24bp}{24bp}\selectfont,text=black!90}]
\node at (163,-35) {AlexNet};
\node at (427,-35) {VGG-16};
\node at (689,-35) {DenseNet};
\node at (954,-35) {ResNet-50};
\node[rotate=90,anchor=center] at (15,-152) {Output Channels};
\node at (562,-294) {Input Channels};
\end{scope}
% table
\draw[line width=2.2bp] (137,-323.5)--(993,-323.5);
\draw[line width=1bp,black!65] (137,-360)--(993,-360);
\draw[line width=0.9bp,black!75] (137,-388)--(993,-388);
\foreach \x in {465.5,581.5,709.5,847.5} \draw[line width=0.7bp,black!70] (\x,-333)--(\x,-422);
\begin{scope}[every node/.style={inner sep=0,font=\fontsize{26.3bp}{26bp}\selectfont}]
\node[anchor=base west] at (153,-353) {Architectures};
\node[anchor=base west] at (153,-383) {Input Channel Correlation};
\node[anchor=base west] at (153,-412) {Output Channel Correlation};
\node[anchor=base] at (526,-353) {AlexNet};
\node[anchor=base] at (647,-353) {VGG-16};
\node[anchor=base] at (778,-353) {DenseNet};
\node[anchor=base] at (920,-353) {ResNet-50};
\node[anchor=base] at (526,-383) {0.0057};
\node[anchor=base] at (647,-383) {0.0082};
\node[anchor=base] at (778,-383) {0.0029};
\node[anchor=base] at (920,-383) {0.0047};
\node[anchor=base] at (526,-412) {0.0267};
\node[anchor=base] at (647,-412) {0.0178};
\node[anchor=base] at (778,-412) {0.0116};
\node[anchor=base] at (920,-412) {0.0077};
\end{scope}
\end{tikzpicture}
\end{document}
